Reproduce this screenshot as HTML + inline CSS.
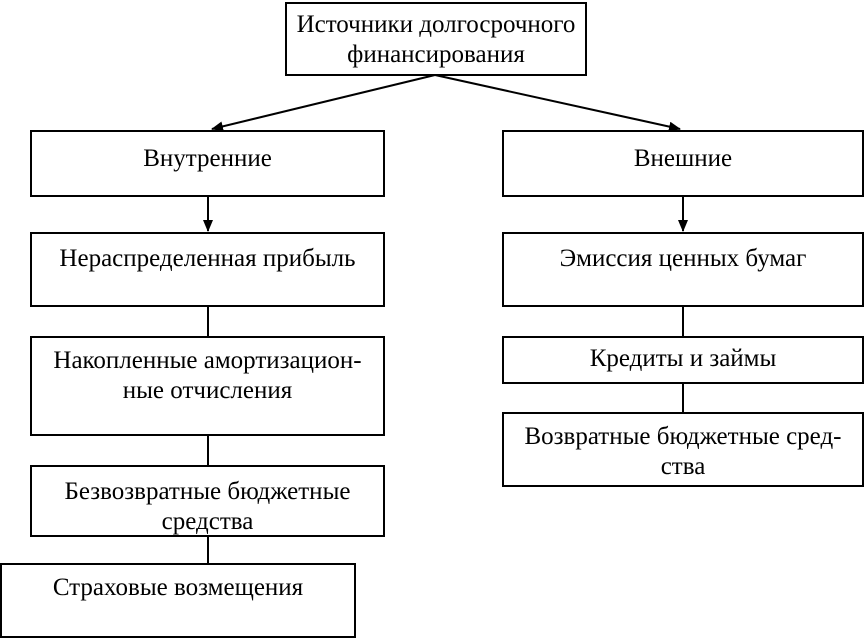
<!DOCTYPE html>
<html><head><meta charset="utf-8"><style>
body{margin:0;width:864px;height:638px;background:#fff;position:relative;overflow:hidden;font-family:"Liberation Serif",serif;font-size:25px;color:#000}
.b{position:absolute;border:2px solid #000;box-sizing:border-box;text-align:center;line-height:30px;white-space:nowrap}
svg{position:absolute;left:0;top:0}
</style></head><body>
<svg width="864" height="638">
<defs><marker id="a" markerWidth="12" markerHeight="12" refX="11" refY="6" orient="auto" markerUnits="userSpaceOnUse"><path d="M0,1 L12,6 L0,11 z" fill="#000"/></marker></defs>
<g stroke="#000" stroke-width="2" fill="none">
<line x1="435" y1="75" x2="212" y2="129" marker-end="url(#a)"/>
<line x1="435" y1="75" x2="680" y2="129" marker-end="url(#a)"/>
<line x1="208" y1="196" x2="208" y2="231" marker-end="url(#a)"/>
<line x1="683" y1="196" x2="683" y2="231" marker-end="url(#a)"/>
<line x1="208" y1="306" x2="208" y2="337"/>
<line x1="208" y1="434" x2="208" y2="466"/>
<line x1="208" y1="535" x2="208" y2="564"/>
<line x1="683" y1="306" x2="683" y2="337"/>
<line x1="683" y1="382" x2="683" y2="413"/>
</g></svg>
<div class="b" style="left:285px;top:2px;width:302px;height:74px;padding-top:6px">Источники долгосрочного<br>финансирования</div>
<div class="b" style="left:30px;top:130px;width:355px;height:67px;padding-top:12px">Внутренние</div>
<div class="b" style="left:502px;top:130px;width:362px;height:67px;padding-top:12px">Внешние</div>
<div class="b" style="left:30px;top:232px;width:355px;height:75px;padding-top:10px">Нераспределенная прибыль</div>
<div class="b" style="left:30px;top:336px;width:355px;height:100px;padding-top:8px">Накопленные амортизацион-<br>ные отчисления</div>
<div class="b" style="left:30px;top:465px;width:355px;height:72px;padding-top:10px">Безвозвратные бюджетные<br>средства</div>
<div class="b" style="left:0px;top:563px;width:356px;height:75px;padding-top:8px">Страховые возмещения</div>
<div class="b" style="left:502px;top:232px;width:362px;height:75px;padding-top:10px">Эмиссия ценных бумаг</div>
<div class="b" style="left:502px;top:336px;width:362px;height:48px;padding-top:6px">Кредиты и займы</div>
<div class="b" style="left:502px;top:412px;width:362px;height:75px;padding-top:8px">Возвратные бюджетные сред-<br>ства</div>
</body></html>
